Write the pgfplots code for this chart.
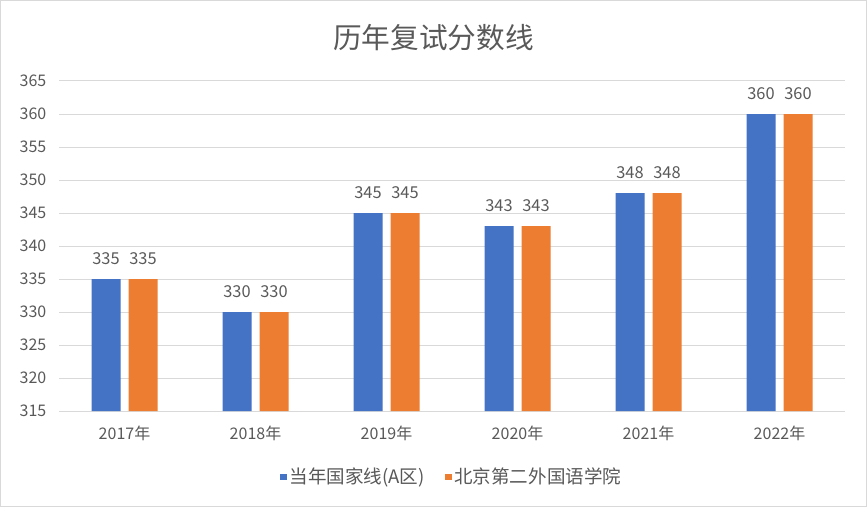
\documentclass[border=0pt]{standalone}
\usepackage{pgfplots}
\pgfplotsset{compat=1.18}
\usepackage{fontspec}
\setmainfont{Noto Sans CJK SC}
\definecolor{cblue}{HTML}{4472C4}
\definecolor{corange}{HTML}{ED7D31}
\definecolor{txtgray}{HTML}{595959}
\definecolor{gridgray}{HTML}{D9D9D9}
\begin{document}
\begin{tikzpicture}
\useasboundingbox (0,0) rectangle (650.25pt,380.25pt);
\draw[gridgray, line width=0.75pt] (0.4pt,0.4pt) rectangle (649.85pt,379.85pt);
\node[txtgray, font=\fontsize{21.5}{25}\selectfont] at (325pt,352pt) {历年复试分数线};
\begin{axis}[
  at={(44.25pt,72pt)}, anchor=south west,
  scale only axis, width=589.5pt, height=247.5pt,
  ybar=6pt, bar width=21.75pt,
  xmin=-0.5, xmax=5.5, ymin=315, ymax=365,
  ytick={315,320,...,365},
  xtick=data,
  xticklabels={2017年,2018年,2019年,2020年,2021年,2022年},
  /pgf/number format/assume math mode=true,
  axis line style={draw=none},
  major tick length=0pt,
  ymajorgrids, grid style={gridgray, line width=0.75pt},
  ticklabel style={txtgray, font=\fontsize{12}{14}\selectfont},
  yticklabel style={xshift=-6pt},
  xticklabel style={yshift=-8pt},
  nodes near coords,
  nodes near coords style={txtgray, font=\fontsize{12.3}{14}\selectfont, anchor=south, yshift=7pt},
  legend style={at={(0.5,-0.2)}, anchor=center, draw=none, legend columns=2,
    font=\fontsize{13.9}{17}\selectfont, text=txtgray},
  legend image code/.code={\fill[#1] (0pt,-2.6pt) rectangle (5.2pt,2.6pt);},
]
\addplot[fill=cblue, draw=none] coordinates {(0,335) (1,330) (2,345) (3,343) (4,348) (5,360)};
\addplot[fill=corange, draw=none] coordinates {(0,335) (1,330) (2,345) (3,343) (4,348) (5,360)};
\legend{当年国家线(A区)\hspace*{13pt},北京第二外国语学院}
\end{axis}
\end{tikzpicture}
\end{document}
